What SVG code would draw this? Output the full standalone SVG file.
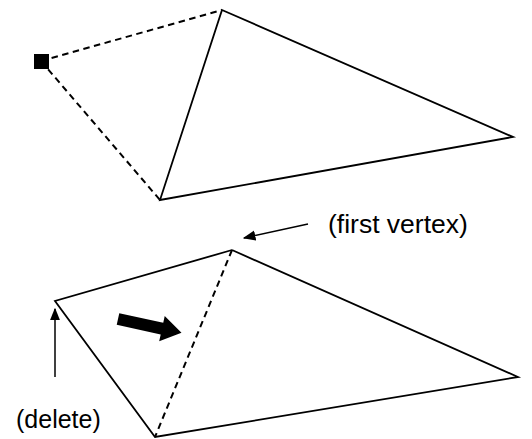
<svg xmlns="http://www.w3.org/2000/svg" width="532" height="439" viewBox="0 0 532 439">
<defs>
<style>
.edge{fill:none;stroke:#000;stroke-width:1.8;stroke-linejoin:miter}
.dash{fill:none;stroke:#000;stroke-width:2;stroke-dasharray:6.5,4.5}
.lbl{font-family:"Liberation Sans",Arial,sans-serif;font-size:25px;fill:#000}
.ptr{fill:none;stroke:#000;stroke-width:1.5}
</style>
<marker id="ah" viewBox="0 0 10 10" refX="9" refY="5" markerWidth="8.5" markerHeight="8.5" orient="auto" markerUnits="strokeWidth">
<path d="M0,1 L10,5 L0,9 Z" fill="#000"/>
</marker>
</defs>
<g id="connectors">
<line class="dash" x1="41" y1="61" x2="222" y2="10"/>
<line class="dash" x1="41" y1="61" x2="160" y2="200"/>
<line class="dash" x1="232" y1="250" x2="155" y2="437"/>
<line class="ptr" x1="308" y1="224" x2="244" y2="238" marker-end="url(#ah)"/>
<line class="ptr" x1="55" y1="377" x2="55" y2="309" marker-end="url(#ah)"/>
</g>
<g id="top-triangle">
<polygon class="edge" points="222,10 513,137 160,200"/>
</g>
<g id="new-point">
<rect x="34" y="54" width="15" height="15" fill="#000"/>
</g>
<g id="bottom-polygon">
<polyline class="edge" points="232,250 55,301 155,437 518,377 232,250"/>
</g>
<g id="flip-arrow">
<polygon transform="translate(118,319) rotate(12.3)" points="0,-6 45,-6 45,-13 65,0 45,13 45,6 0,6" fill="#000"/>
</g>
<g id="label-first-vertex">
<text class="lbl" x="328" y="233" style="font-size:26.5px">(first vertex)</text>
</g>
<g id="label-delete">
<text class="lbl" x="16" y="428">(delete)</text>
</g>
</svg>
